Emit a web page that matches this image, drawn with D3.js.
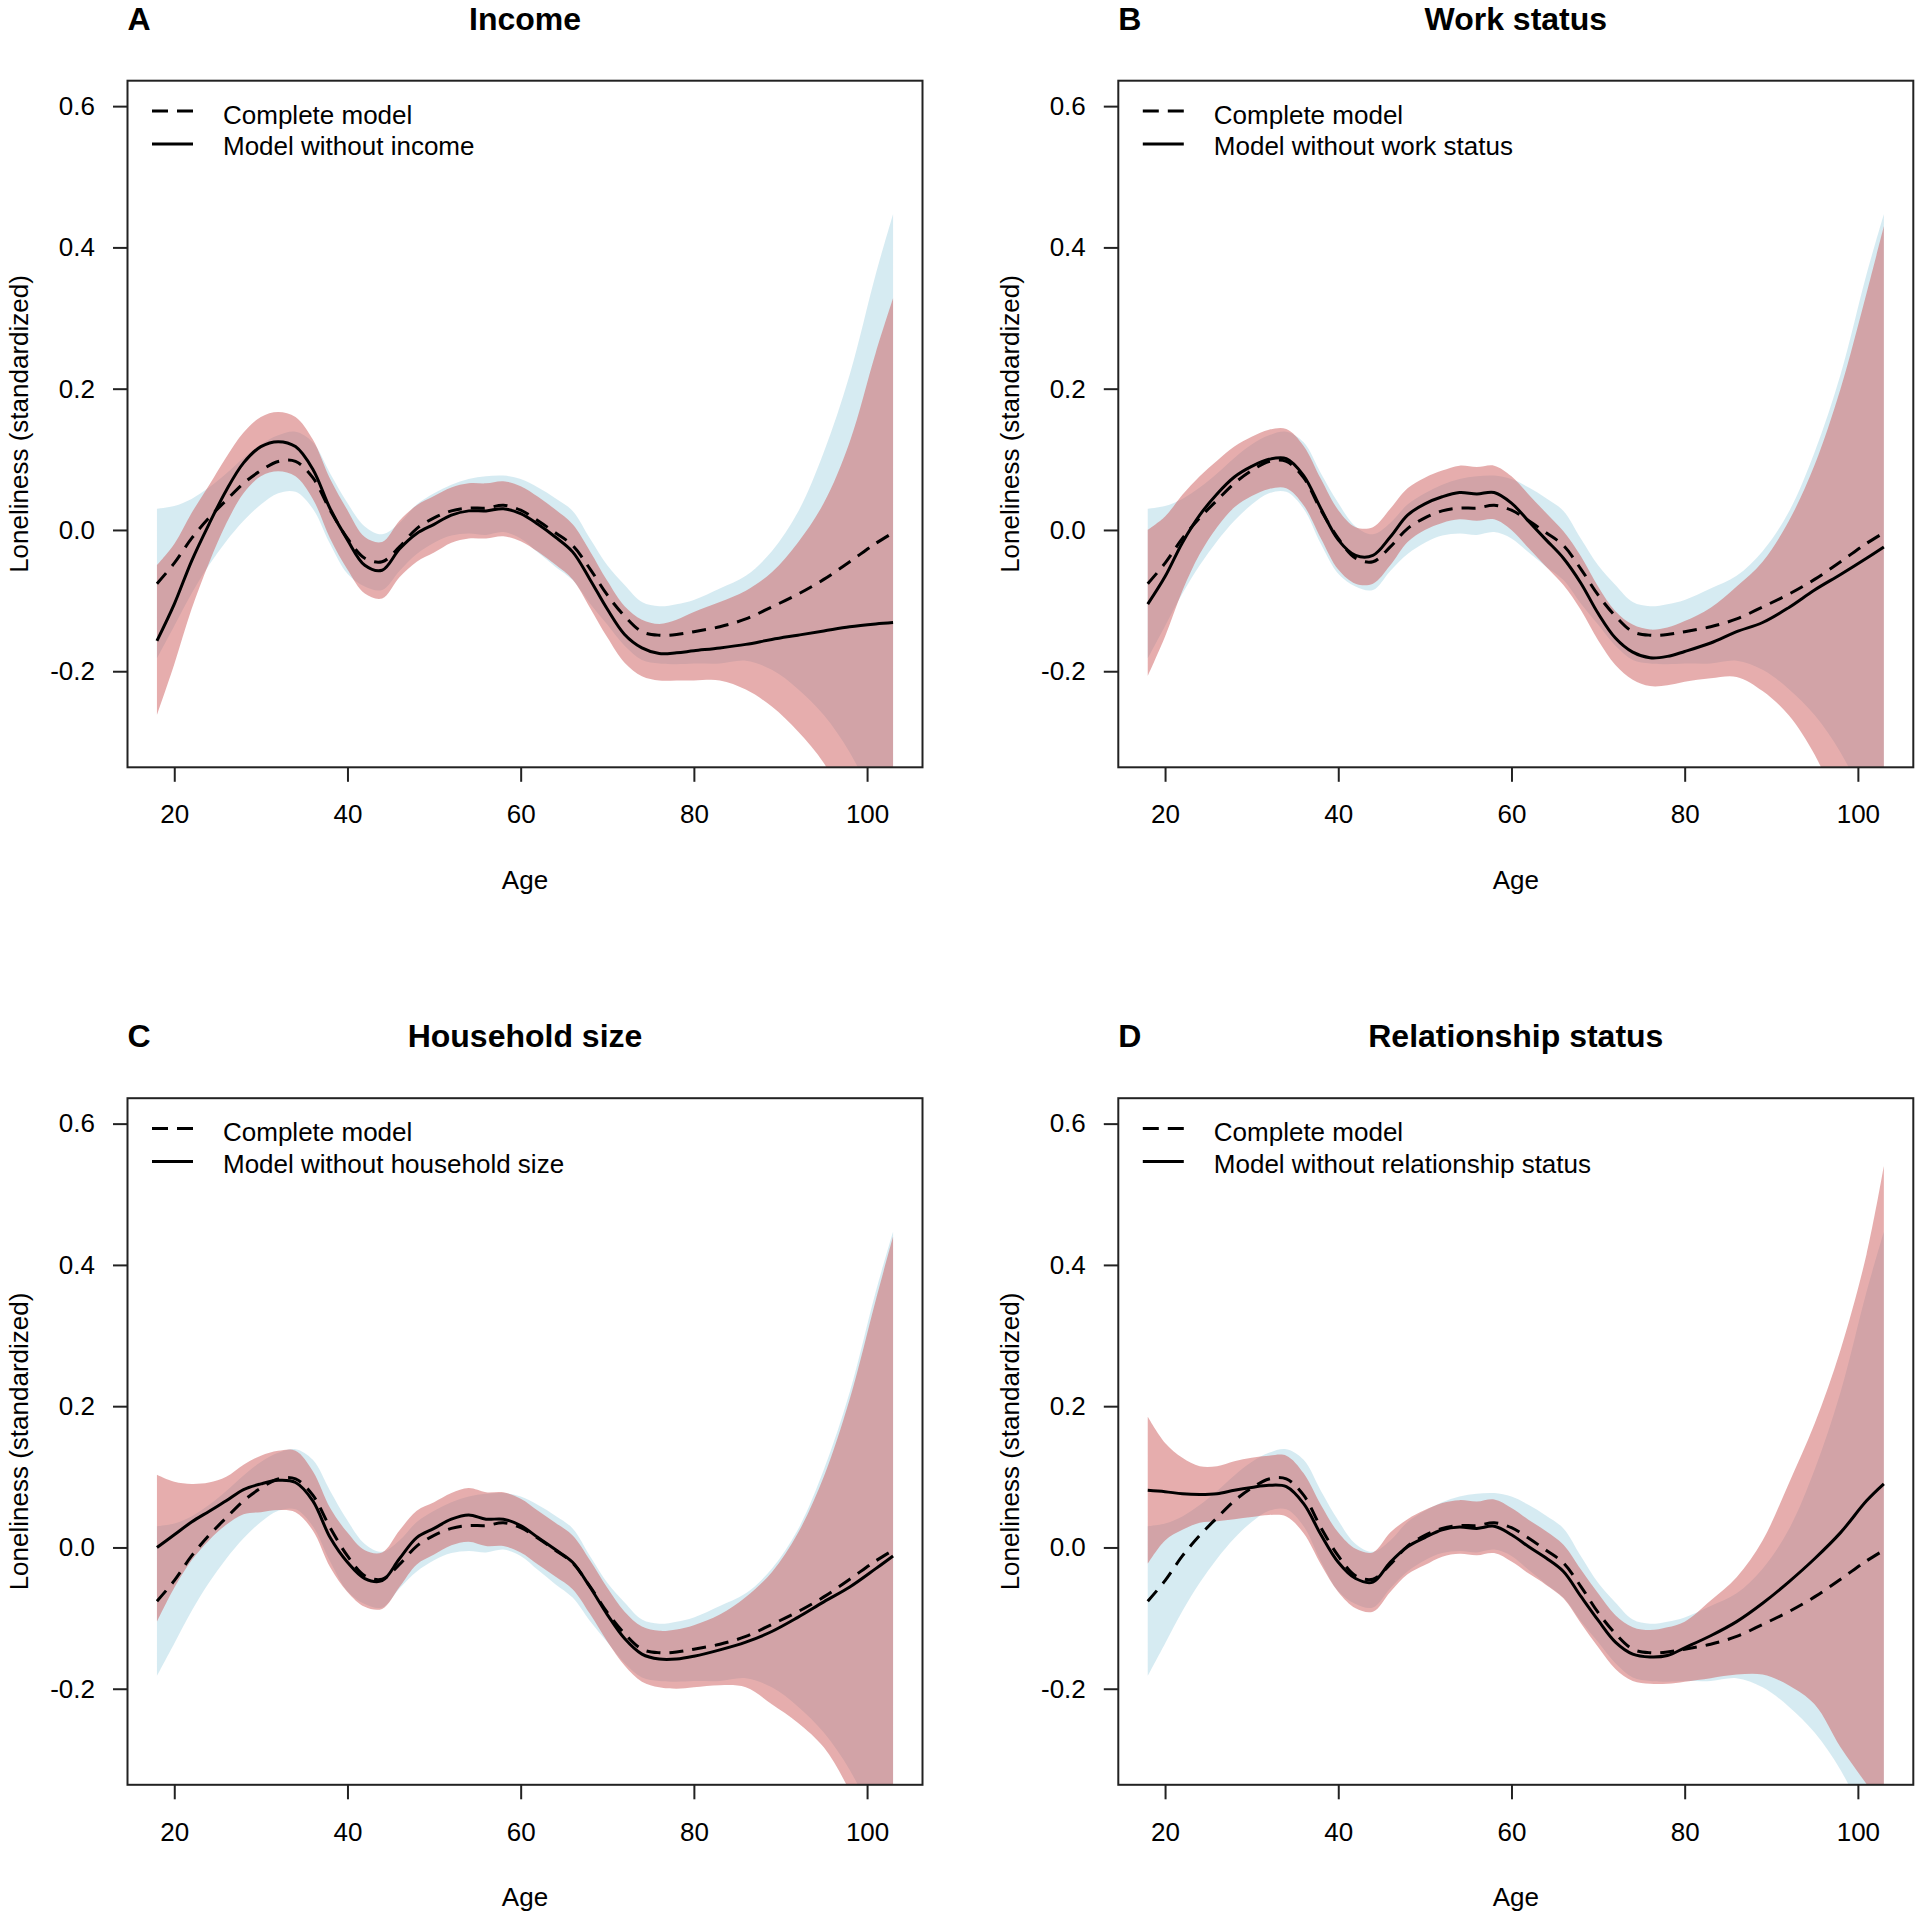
<!DOCTYPE html>
<html><head><meta charset="utf-8">
<script src="https://cdn.jsdelivr.net/npm/d3@7"></script>
<style>
body{margin:0;background:#fff}
text{font-family:"Liberation Sans",Arial,Helvetica,sans-serif;fill:#000}
</style>
</head><body>
<svg id="chart" width="1920" height="1918"></svg>
<script>
// ---------- DATA ----------
const ages = [18,20,22,24,26,28,30,32,34,36,38,40,42,44,46,48,50,52,54,56,58,60,62,64,66,68,70,72,74,76,78,80,83,86,89,92,95,98,101,103];

// Complete model (dashed line + light blue band), same in all panels
const completeFit = [-0.076,-0.047,-0.012,0.017,0.042,0.066,0.084,0.097,0.097,0.074,0.028,-0.012,-0.040,-0.045,-0.024,0.002,0.017,0.027,0.031,0.031,0.035,0.028,0.013,-0.004,-0.022,-0.055,-0.092,-0.122,-0.144,-0.149,-0.148,-0.144,-0.137,-0.126,-0.109,-0.091,-0.070,-0.045,-0.019,-0.004];
const completeUpper = [0.030,0.034,0.044,0.060,0.080,0.102,0.121,0.134,0.139,0.124,0.080,0.038,0.005,-0.006,0.010,0.036,0.052,0.064,0.072,0.076,0.077,0.072,0.060,0.045,0.027,-0.012,-0.050,-0.078,-0.102,-0.108,-0.105,-0.099,-0.083,-0.065,-0.030,0.025,0.110,0.220,0.362,0.447];
const completeLower = [-0.182,-0.136,-0.090,-0.050,-0.016,0.013,0.036,0.052,0.054,0.030,-0.020,-0.062,-0.080,-0.085,-0.058,-0.034,-0.018,-0.008,-0.005,-0.007,-0.003,-0.012,-0.032,-0.052,-0.071,-0.104,-0.134,-0.164,-0.184,-0.189,-0.190,-0.189,-0.189,-0.185,-0.198,-0.225,-0.262,-0.315,-0.390,-0.455];

// A: Model without income
const incomeFit = [-0.157,-0.105,-0.044,0.008,0.056,0.095,0.118,0.125,0.118,0.086,0.030,-0.014,-0.050,-0.057,-0.027,-0.005,0.008,0.021,0.027,0.027,0.030,0.023,0.008,-0.010,-0.031,-0.070,-0.112,-0.148,-0.167,-0.175,-0.174,-0.171,-0.167,-0.162,-0.155,-0.149,-0.143,-0.137,-0.133,-0.131];
const incomeUpper = [-0.050,-0.020,0.024,0.063,0.103,0.138,0.160,0.167,0.160,0.128,0.072,0.028,-0.010,-0.017,0.013,0.035,0.048,0.060,0.066,0.066,0.069,0.062,0.047,0.029,0.008,-0.030,-0.072,-0.108,-0.127,-0.133,-0.127,-0.116,-0.102,-0.086,-0.060,-0.018,0.038,0.125,0.251,0.328];
const incomeLower = [-0.262,-0.190,-0.112,-0.047,0.009,0.052,0.076,0.083,0.076,0.044,-0.012,-0.056,-0.090,-0.097,-0.067,-0.045,-0.032,-0.018,-0.012,-0.012,-0.009,-0.016,-0.031,-0.049,-0.070,-0.110,-0.152,-0.188,-0.207,-0.213,-0.213,-0.213,-0.213,-0.226,-0.250,-0.285,-0.330,-0.400,-0.510,-0.590];

// B: Model without work status
const workFit = [-0.105,-0.066,-0.018,0.021,0.051,0.075,0.090,0.100,0.101,0.077,0.030,-0.014,-0.036,-0.036,-0.010,0.021,0.037,0.047,0.053,0.051,0.053,0.038,0.012,-0.014,-0.040,-0.075,-0.118,-0.153,-0.173,-0.181,-0.179,-0.172,-0.160,-0.144,-0.131,-0.110,-0.085,-0.063,-0.040,-0.024];
const workUpper = [0.000,0.019,0.050,0.076,0.098,0.118,0.132,0.142,0.143,0.119,0.072,0.028,0.004,0.004,0.030,0.059,0.074,0.084,0.091,0.089,0.091,0.076,0.050,0.024,-0.002,-0.037,-0.080,-0.115,-0.134,-0.141,-0.138,-0.129,-0.110,-0.080,-0.045,0.012,0.092,0.200,0.335,0.430];
const workLower = [-0.207,-0.151,-0.086,-0.034,0.004,0.032,0.048,0.058,0.059,0.035,-0.012,-0.056,-0.076,-0.076,-0.050,-0.017,0.000,0.010,0.015,0.013,0.015,0.000,-0.026,-0.052,-0.078,-0.113,-0.156,-0.191,-0.212,-0.221,-0.220,-0.215,-0.210,-0.208,-0.228,-0.262,-0.318,-0.400,-0.500,-0.570];

// C: Model without household size
const householdFit = [0.000,0.018,0.036,0.051,0.066,0.082,0.090,0.095,0.092,0.066,0.014,-0.021,-0.044,-0.047,-0.016,0.014,0.027,0.040,0.046,0.040,0.040,0.031,0.014,-0.003,-0.021,-0.056,-0.095,-0.129,-0.151,-0.158,-0.158,-0.154,-0.145,-0.134,-0.119,-0.099,-0.077,-0.056,-0.030,-0.012];
const householdUpper = [0.103,0.093,0.090,0.092,0.100,0.117,0.130,0.137,0.137,0.108,0.056,0.021,-0.004,-0.007,0.024,0.052,0.064,0.077,0.084,0.078,0.078,0.069,0.052,0.035,0.017,-0.018,-0.057,-0.091,-0.112,-0.118,-0.116,-0.110,-0.095,-0.070,-0.035,0.020,0.100,0.210,0.350,0.440];
const householdLower = [-0.105,-0.057,-0.018,0.010,0.032,0.047,0.050,0.053,0.050,0.024,-0.028,-0.063,-0.084,-0.087,-0.056,-0.024,-0.010,0.003,0.008,0.002,0.002,-0.007,-0.024,-0.041,-0.059,-0.094,-0.133,-0.167,-0.190,-0.198,-0.200,-0.198,-0.195,-0.198,-0.222,-0.248,-0.283,-0.345,-0.430,-0.500];

// D: Model without relationship status
const relationshipFit = [0.081,0.079,0.076,0.075,0.076,0.081,0.085,0.088,0.086,0.062,0.018,-0.021,-0.044,-0.049,-0.021,0.001,0.014,0.025,0.029,0.027,0.030,0.018,0.001,-0.015,-0.034,-0.069,-0.103,-0.134,-0.151,-0.155,-0.153,-0.142,-0.125,-0.105,-0.079,-0.049,-0.016,0.021,0.066,0.090];
const relationshipUpper = [0.185,0.148,0.127,0.115,0.115,0.122,0.127,0.130,0.130,0.105,0.060,0.021,-0.002,-0.007,0.021,0.040,0.053,0.063,0.067,0.065,0.068,0.056,0.039,0.023,0.004,-0.031,-0.065,-0.096,-0.113,-0.117,-0.113,-0.105,-0.075,-0.042,0.010,0.090,0.175,0.280,0.415,0.540];
const relationshipLower = [-0.023,0.010,0.025,0.035,0.037,0.040,0.043,0.046,0.044,0.020,-0.024,-0.063,-0.086,-0.091,-0.063,-0.038,-0.025,-0.013,-0.009,-0.011,-0.008,-0.020,-0.037,-0.053,-0.072,-0.107,-0.141,-0.172,-0.189,-0.193,-0.193,-0.190,-0.185,-0.180,-0.180,-0.195,-0.222,-0.283,-0.335,-0.370];

const xTicks = [20,40,60,80,100];
const yTicks = [-0.2,0.0,0.2,0.4,0.6];
const yTickLabels = ["-0.2","0.0","0.2","0.4","0.6"];
const panelLetters = ["A","B","C","D"];
const panelTitles = ["Income","Work status","Household size","Relationship status"];
const legendLabels = ["Model without income","Model without work status","Model without household size","Model without relationship status"];
const completeLabel = "Complete model";
const xLabel = "Age";
const yLabel = "Loneliness (standardized)";

// ---------- LAYOUT ----------
const reduced = [
  {fit:incomeFit, lower:incomeLower, upper:incomeUpper},
  {fit:workFit, lower:workLower, upper:workUpper},
  {fit:householdFit, lower:householdLower, upper:householdUpper},
  {fit:relationshipFit, lower:relationshipLower, upper:relationshipUpper}
];
const offsets = [[0,0],[990.8,0],[0,1017.5],[990.8,1017.5]];
const box = {left:127.5, top:80.7, right:922.5, bottom:767.3};
const x = d3.scaleLinear().domain([14.6,106.4]).range([box.left, box.right]);
const y = d3.scaleLinear().domain([-0.336,0.636]).range([box.bottom, box.top]);

const blueFill = "rgba(173,216,230,0.5)";
const redFill = "rgba(205,92,92,0.5)";
const curve = d3.curveCatmullRom.alpha(0.5);
const fs = "26px";

const svg = d3.select("#chart");

const bandGen = (lo, hi) => d3.area()
  .x((d,j)=>x(ages[j])).y0((d,j)=>y(lo[j])).y1((d,j)=>y(hi[j])).curve(curve)(ages);
const lineGen = (v) => d3.line()
  .x((d,j)=>x(ages[j])).y((d,j)=>y(v[j])).curve(curve)(ages);

reduced.forEach((r,i)=>{
  const [ox,oy] = offsets[i];
  const g = svg.append("g").attr("transform",`translate(${ox},${oy})`);
  const clipId = "clip"+i;
  g.append("clipPath").attr("id",clipId).append("rect")
    .attr("x",box.left).attr("y",box.top)
    .attr("width",box.right-box.left).attr("height",box.bottom-box.top);
  const plot = g.append("g").attr("clip-path",`url(#${clipId})`);

  plot.append("path").attr("d",bandGen(completeLower,completeUpper)).attr("fill",blueFill);
  plot.append("path").attr("d",bandGen(r.lower,r.upper)).attr("fill",redFill);
  plot.append("path").attr("d",lineGen(completeFit)).attr("fill","none")
    .attr("stroke","#000").attr("stroke-width",3).attr("stroke-dasharray","14,9");
  plot.append("path").attr("d",lineGen(r.fit)).attr("fill","none")
    .attr("stroke","#000").attr("stroke-width",3).attr("stroke-linejoin","round");

  // box
  g.append("rect").attr("x",box.left).attr("y",box.top)
    .attr("width",box.right-box.left).attr("height",box.bottom-box.top)
    .attr("fill","none").attr("stroke","#222").attr("stroke-width",2);

  // axes
  const yAxis = d3.axisLeft(y).tickValues(yTicks)
    .tickFormat((d,k)=>yTickLabels[k]).tickSize(14.5).tickPadding(18);
  const ya = g.append("g").attr("transform",`translate(${box.left},0)`).call(yAxis);
  const xAxis = d3.axisBottom(x).tickValues(xTicks).tickFormat(d3.format("d"))
    .tickSize(14.5).tickPadding(23);
  const xa = g.append("g").attr("transform",`translate(0,${box.bottom})`).call(xAxis);
  [ya,xa].forEach(a=>{
    a.select(".domain").remove();
    a.selectAll(".tick line").attr("stroke","#222").attr("stroke-width",2);
    a.selectAll(".tick text").attr("font-size",fs)
      .attr("font-family","'Liberation Sans',Arial,sans-serif").attr("fill","#000");
  });

  // axis titles
  g.append("text").attr("x",(box.left+box.right)/2).attr("y",888.5)
    .attr("text-anchor","middle").attr("font-size",fs).text(xLabel);
  g.append("text").attr("transform",`translate(28,${(box.top+box.bottom)/2}) rotate(-90)`)
    .attr("text-anchor","middle").attr("font-size",fs).text(yLabel);

  // panel letter & title
  g.append("text").attr("x",box.left).attr("y",29.5).attr("font-size","32px")
    .attr("font-weight","bold").text(panelLetters[i]);
  g.append("text").attr("x",(box.left+box.right)/2).attr("y",29.5).attr("text-anchor","middle")
    .attr("font-size","32px").attr("font-weight","bold").text(panelTitles[i]);

  // legend
  const lg = g.append("g");
  lg.append("line").attr("x1",152).attr("x2",193).attr("y1",111).attr("y2",111)
    .attr("stroke","#000").attr("stroke-width",3).attr("stroke-dasharray","16,9");
  lg.append("line").attr("x1",152).attr("x2",193).attr("y1",144).attr("y2",144)
    .attr("stroke","#000").attr("stroke-width",3);
  lg.append("text").attr("x",223).attr("y",123.5).attr("font-size",fs).text(completeLabel);
  lg.append("text").attr("x",223).attr("y",155).attr("font-size",fs).text(legendLabels[i]);
});
</script>
</body></html>
